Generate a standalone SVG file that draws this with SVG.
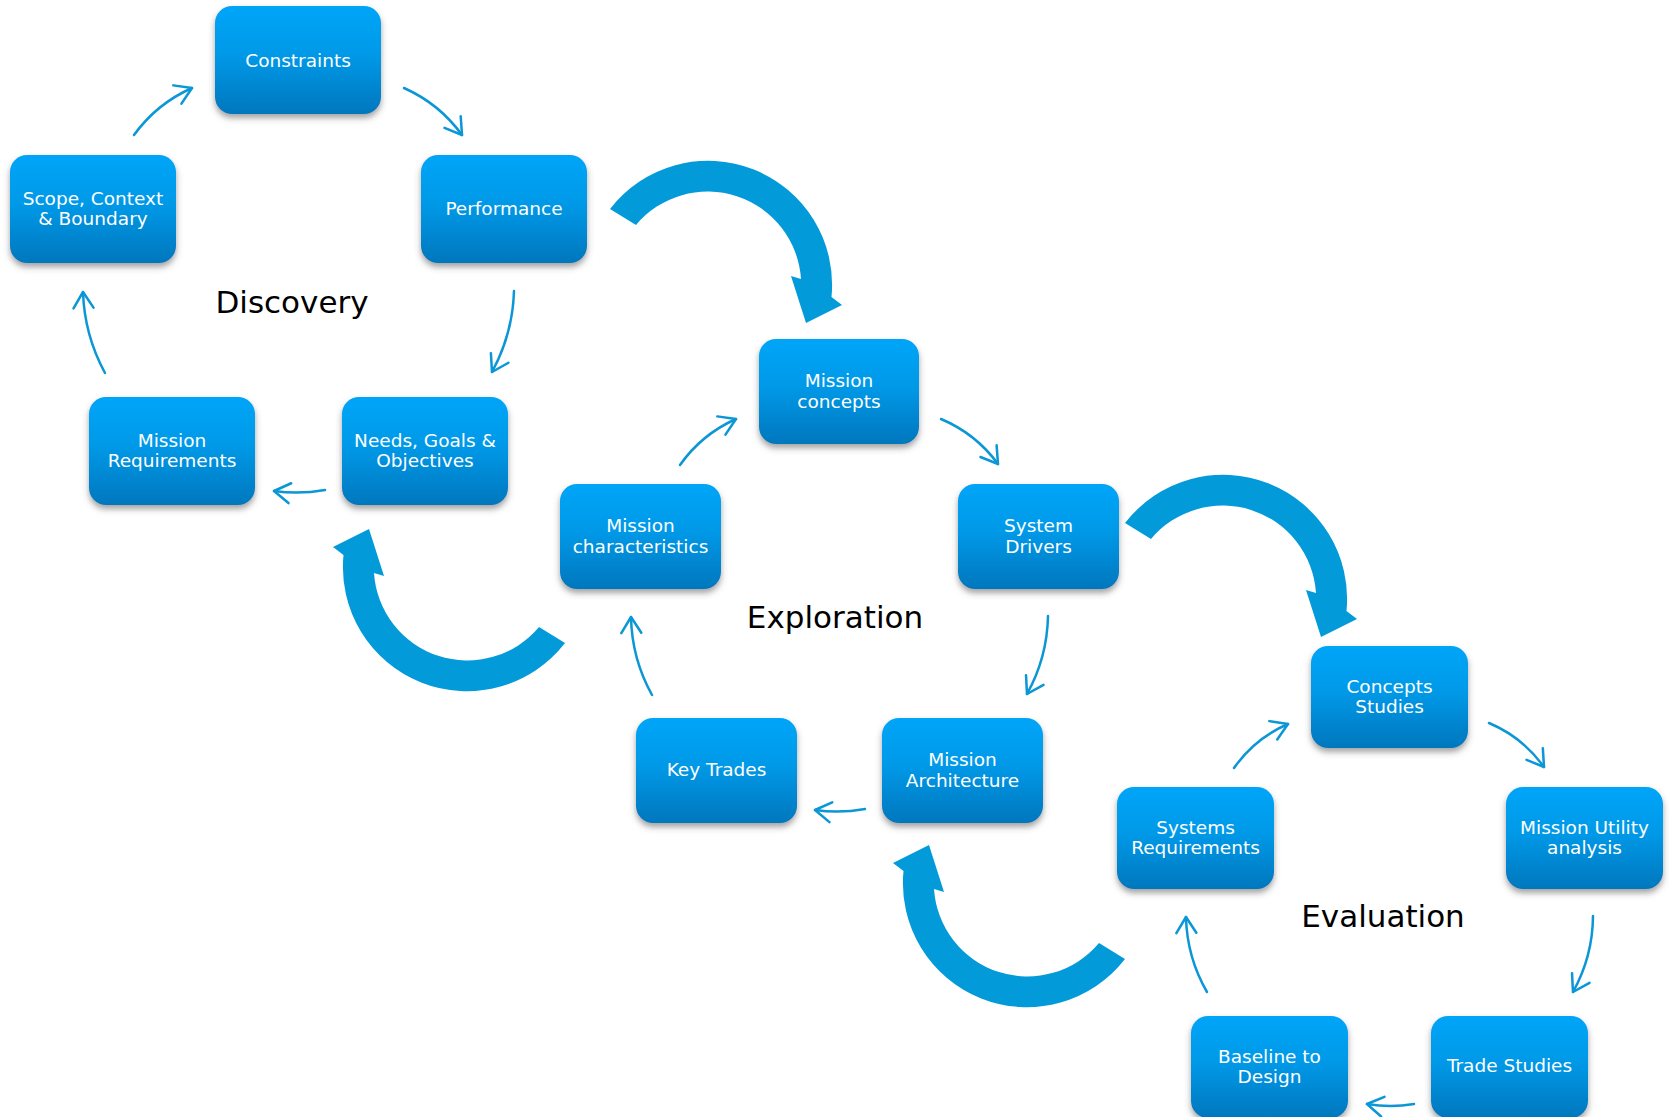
<svg xmlns="http://www.w3.org/2000/svg" width="1669" height="1117" viewBox="0 0 1669 1117">
  <defs>
    <style>
      .box { fill: url(#boxFill); filter: url(#boxShadow); }
      .lbl { font-family: "DejaVu Sans", Verdana, sans-serif; font-size: 18.5px; fill: #ffffff; text-anchor: middle; }
      .phase { font-family: "DejaVu Sans", Verdana, sans-serif; font-size: 31px; fill: #000000; text-anchor: middle; }
      .flow { fill: none; stroke: #0B96D5; stroke-width: 2.5; stroke-linecap: round; marker-end: url(#vhead); }
      .bigarrow { fill: #039AD9; }
    </style>
    <linearGradient id="boxFill" x1="0" y1="0" x2="0" y2="1">
      <stop offset="0" stop-color="#00A5F8"/>
      <stop offset="0.45" stop-color="#0299E8"/>
      <stop offset="1" stop-color="#0077BD"/>
    </linearGradient>
    <filter id="boxShadow" x="-10%" y="-10%" width="120%" height="130%">
      <feGaussianBlur in="SourceAlpha" stdDeviation="3"/>
      <feOffset dx="0" dy="4" result="blur"/>
      <feFlood flood-color="#555555" flood-opacity="0.55"/>
      <feComposite in2="blur" operator="in" result="shadow"/>
      <feMerge>
        <feMergeNode in="shadow"/>
        <feMergeNode in="SourceGraphic"/>
      </feMerge>
    </filter>
    <marker id="vhead" markerUnits="userSpaceOnUse" markerWidth="30" markerHeight="30" refX="0" refY="0" orient="auto" overflow="visible">
      <path d="M -16,-10 L 0,0 L -16,10" fill="none" stroke="#0B96D5" stroke-width="2.5" stroke-linecap="round" stroke-linejoin="round"/>
    </marker>
    <!-- thick circular arrow, centred on its arc centre, running clockwise -->
    <path id="circArrow" d="M -98,-76 A 124 124 0 0 1 123.5,12 L 134,20 L 98,38 L 83,-9 L 93,-6 A 93.5 93.5 0 0 0 -72,-60 Z"/>
  </defs>

  <!-- phase titles -->
  <text class="phase" x="292" y="313">Discovery</text>
  <text class="phase" x="835" y="628">Exploration</text>
  <text class="phase" x="1383" y="927">Evaluation</text>

  <!-- connectors -->
  <g id="connectors">
    <!-- phase transitions -->
    <use href="#circArrow" class="bigarrow" transform="translate(708,285)"/>
    <use href="#circArrow" class="bigarrow" transform="translate(467,567) rotate(180)"/>
    <use href="#circArrow" class="bigarrow" transform="translate(1223,599)"/>
    <use href="#circArrow" class="bigarrow" transform="translate(1027,883) rotate(180)"/>

    <!-- Discovery loop -->
    <path class="flow" d="M 134,135 Q 156.7,103.7 192,88"/>
    <path class="flow" d="M 404,88 Q 439.3,103.7 462,135"/>
    <path class="flow" d="M 514,291 Q 512.7,334.1 492,372"/>
    <path class="flow" d="M 325,490 Q 299.6,494.5 274,491"/>
    <path class="flow" d="M 105,373 Q 84.4,335.1 83,292"/>

    <!-- Exploration loop -->
    <path class="flow" d="M 680,465 Q 701.7,434.3 736,419"/>
    <path class="flow" d="M 941,419 Q 975.7,433.6 998,464"/>
    <path class="flow" d="M 1048,616 Q 1047.2,657.6 1027,694"/>
    <path class="flow" d="M 865,809 Q 840.1,813.5 815,810"/>
    <path class="flow" d="M 652,695 Q 631.8,658.6 631,617"/>

    <!-- Evaluation loop -->
    <path class="flow" d="M 1234,768 Q 1254.7,738.3 1288,724"/>
    <path class="flow" d="M 1489,723 Q 1522.7,737.2 1544,767"/>
    <path class="flow" d="M 1593,916 Q 1592.7,956.5 1573,992"/>
    <path class="flow" d="M 1414,1104 Q 1390.5,1108 1367,1104"/>
    <path class="flow" d="M 1207,992 Q 1186.9,957.2 1186,917"/>
  </g>

  <!-- Discovery nodes -->
  <g id="n-constraints">
    <rect class="box" x="215" y="6" width="166" height="108" rx="17"/>
    <text class="lbl" x="298" y="66.5">Constraints</text>
  </g>
  <g id="n-scope">
    <rect class="box" x="10" y="155" width="166" height="108" rx="17"/>
    <text class="lbl" x="93" y="204.5">Scope, Context</text>
    <text class="lbl" x="93" y="225">&amp; Boundary</text>
  </g>
  <g id="n-performance">
    <rect class="box" x="421" y="155" width="166" height="108" rx="17"/>
    <text class="lbl" x="504" y="214.5">Performance</text>
  </g>
  <g id="n-mission-requirements">
    <rect class="box" x="89" y="397" width="166" height="108" rx="17"/>
    <text class="lbl" x="172" y="446.5">Mission</text>
    <text class="lbl" x="172" y="467">Requirements</text>
  </g>
  <g id="n-needs">
    <rect class="box" x="342" y="397" width="166" height="108" rx="17"/>
    <text class="lbl" x="425" y="446.5">Needs, Goals &amp;</text>
    <text class="lbl" x="425" y="467">Objectives</text>
  </g>

  <!-- Exploration nodes -->
  <g id="n-mission-concepts">
    <rect class="box" x="759" y="339" width="160" height="105" rx="17"/>
    <text class="lbl" x="839" y="387">Mission</text>
    <text class="lbl" x="839" y="407.5">concepts</text>
  </g>
  <g id="n-mission-characteristics">
    <rect class="box" x="560" y="484" width="161" height="105" rx="17"/>
    <text class="lbl" x="640.5" y="532">Mission</text>
    <text class="lbl" x="640.5" y="552.5">characteristics</text>
  </g>
  <g id="n-system-drivers">
    <rect class="box" x="958" y="484" width="161" height="105" rx="17"/>
    <text class="lbl" x="1038.5" y="532">System</text>
    <text class="lbl" x="1038.5" y="552.5">Drivers</text>
  </g>
  <g id="n-key-trades">
    <rect class="box" x="636" y="718" width="161" height="105" rx="17"/>
    <text class="lbl" x="716.5" y="776">Key Trades</text>
  </g>
  <g id="n-mission-architecture">
    <rect class="box" x="882" y="718" width="161" height="105" rx="17"/>
    <text class="lbl" x="962.5" y="766">Mission</text>
    <text class="lbl" x="962.5" y="786.5">Architecture</text>
  </g>

  <!-- Evaluation nodes -->
  <g id="n-concepts-studies">
    <rect class="box" x="1311" y="646" width="157" height="102" rx="17"/>
    <text class="lbl" x="1389.5" y="692.5">Concepts</text>
    <text class="lbl" x="1389.5" y="713">Studies</text>
  </g>
  <g id="n-systems-requirements">
    <rect class="box" x="1117" y="787" width="157" height="102" rx="17"/>
    <text class="lbl" x="1195.5" y="833.5">Systems</text>
    <text class="lbl" x="1195.5" y="854">Requirements</text>
  </g>
  <g id="n-mission-utility">
    <rect class="box" x="1506" y="787" width="157" height="102" rx="17"/>
    <text class="lbl" x="1584.5" y="833.5">Mission Utility</text>
    <text class="lbl" x="1584.5" y="854">analysis</text>
  </g>
  <g id="n-baseline">
    <rect class="box" x="1191" y="1016" width="157" height="102" rx="17"/>
    <text class="lbl" x="1269.5" y="1062.5">Baseline to</text>
    <text class="lbl" x="1269.5" y="1083">Design</text>
  </g>
  <g id="n-trade-studies">
    <rect class="box" x="1431" y="1016" width="157" height="102" rx="17"/>
    <text class="lbl" x="1509.5" y="1072">Trade Studies</text>
  </g>
</svg>
